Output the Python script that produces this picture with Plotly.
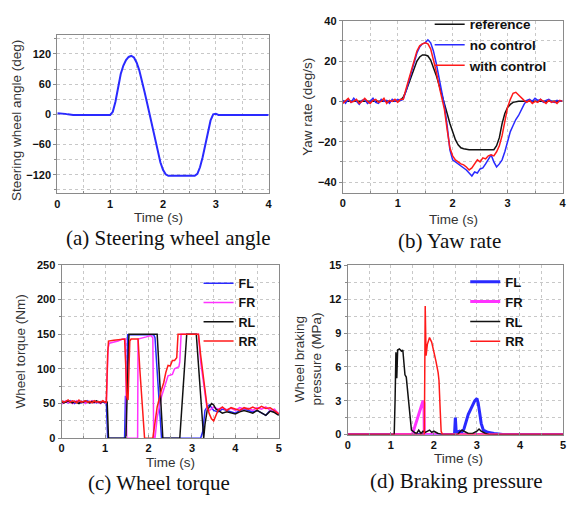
import plotly.graph_objects as go

W, H = 568, 507

# ---------------- (a) Steering wheel angle ----------------
swa_t = [0, 0.1, 0.15, 0.2, 0.3, 1.0, 1.05, 1.1, 1.15, 1.2, 1.25, 1.3, 1.35, 1.4, 1.45, 1.5,
         1.55, 1.6, 1.65, 1.7, 1.75, 1.8, 1.85, 1.9, 1.95, 2.0, 2.05, 2.1, 2.6, 2.65, 2.7,
         2.75, 2.8, 2.85, 2.9, 2.95, 3.0, 3.05, 4.0]
swa_v = [2, 2, 1, 0, -1, -1, 5, 25, 55, 80, 97, 108, 114, 116, 113, 103,
         88, 68, 45, 22, -2, -28, -52, -75, -95, -110, -119, -122, -122, -118, -105,
         -85, -60, -35, -12, 0, 1, -1, -1]

# ---------------- (b) Yaw rate ----------------
yaw_base_t = [0, 0.05, 0.1, 0.15, 0.2, 0.25, 0.3, 0.35, 0.4, 0.45, 0.5, 0.55, 0.6, 0.65,
              0.7, 0.75, 0.8, 0.85, 0.9, 0.95, 1.0, 1.05]
yaw_ref_t = [0, 1.0, 1.05, 1.1, 1.15, 1.2, 1.25, 1.3, 1.35, 1.4, 1.45, 1.5, 1.55, 1.6, 1.65,
             1.7, 1.75, 1.8, 1.85, 1.9, 1.95, 2.0, 2.05, 2.1, 2.15, 2.2, 2.3, 2.75, 2.8, 2.85,
             2.9, 2.95, 3.0, 3.05, 3.1, 3.2, 4.0]
yaw_ref_v = [0, 0, 0.5, 2, 5, 9, 13, 17, 20, 22, 23, 23, 22.5, 20.5, 17,
             13, 8.5, 4, -1, -6, -11, -15.5, -19, -21.5, -23, -23.5, -24, -24, -22, -18,
             -11, -6, -3, -1.5, -0.5, 0, 0]
yaw_tail_t = [1.1, 1.15, 1.2, 1.25, 1.3, 1.35, 1.4, 1.45, 1.5, 1.55, 1.6, 1.65, 1.7, 1.75,
              1.8, 1.85, 1.9, 1.95, 2.0, 2.05, 2.1, 2.15, 2.2, 2.25, 2.3, 2.35, 2.4, 2.45,
              2.5, 2.55, 2.6, 2.65, 2.7, 2.75, 2.8, 2.85, 2.9, 2.95, 3.0, 3.05, 3.1, 3.15,
              3.2, 3.25, 3.3, 3.35, 3.4, 3.45, 3.5, 3.55, 3.6, 3.65, 3.7, 3.75, 3.8, 3.85,
              3.9, 3.95, 4.0]
yaw_noc_base = [0.5, -1, 1, -0.5, 1.5, 0, -1.5, 0.5, 1, -1, 0, 1.5, -0.5, -1, 1, 0, 0.5,
                -1, 1, 0, 1, 0.5]
yaw_noc_tail = [1, 5, 10, 15, 20, 24, 27, 28.5, 29, 30.5, 29, 25, 19, 12,
                5, -2, -12, -24, -29, -30, -31, -32, -33, -34, -35.5, -37, -35, -35.5,
                -33.5, -33, -31, -29, -26.5, -30, -32.5, -31, -29, -25, -20, -15, -12, -9,
                -7, -4, -1.5, 0.5, 1, 0, 1.5, 0.5, 1, -0.5, 0.5, 1, 0, -0.5,
                0.5, 0, 0.5]
yaw_wc_base = [-1, 0.5, 1.5, -0.5, 0, 1, -1, 0, 1.5, 0, -1, 0.5, 1, -0.5, 0, 1.5, -1,
               0.5, 0, 1, -0.5, 1]
yaw_wc_tail = [1, 6, 11, 16, 21, 25, 27.5, 28.5, 29, 28.5, 26, 21, 15, 8,
               2, -4, -14, -23, -27, -29, -30, -31, -31.5, -32.5, -34, -33, -31, -29,
               -30, -28, -28.5, -27, -26.5, -27, -25, -22, -17, -9, -3, 1, 4, 4.5,
               3, 1.5, 0.5, -0.5, 0.5, -1, 0, -0.5, 1, 0, -1, 0.5, -0.5, 0,
               -1, 0.5, 0]

# ---------------- (c) Wheel torque ----------------
base_t = [0, 0.05, 0.1, 0.15, 0.2, 0.25, 0.3, 0.35, 0.4, 0.45, 0.5, 0.55, 0.6, 0.65, 0.7,
          0.75, 0.8, 0.85, 0.9, 0.95, 1.0]
fl_tq_t = base_t + [1.03, 1.06, 1.45, 1.47, 1.5, 1.52, 2.12, 2.15, 2.3, 3.2, 3.25, 3.3, 3.35,
                    3.4, 3.5, 3.6, 3.7, 3.8, 3.9, 4.0, 4.1, 4.2, 4.3, 4.4, 4.5, 4.6, 4.7,
                    4.8, 4.9, 5.0]
fl_tq_v = [50, 53, 52, 51, 54, 52, 50, 53, 52, 51, 53, 52, 54, 51, 52, 53, 51, 52, 53, 52,
           51] + [52, 0, 0, 60, 60, 149, 149, 145, 0, 0, 10, 40, 45,
                  48, 40, 38, 42, 40, 38, 36, 40, 42, 40, 38, 40, 37, 33,
                  40, 38, 34]
fr_tq_t = base_t + [1.03, 1.07, 1.1, 1.2, 1.3, 1.4, 1.47, 1.5, 1.75, 1.76, 1.85, 1.95, 2.05,
                    2.1, 2.12, 2.15, 2.2, 2.3, 2.4, 2.45, 2.55, 2.6, 2.7, 2.72, 2.75, 3.15,
                    3.2, 3.3, 3.35, 3.4, 3.5, 3.6, 3.7, 3.8, 3.9, 4.0, 4.1, 4.2, 4.3, 4.4,
                    4.5, 4.6, 4.7, 4.8, 4.9, 5.0]
fr_tq_v = [49, 52, 54, 51, 53, 50, 52, 54, 51, 53, 52, 50, 53, 52, 54, 51, 53, 52, 50, 53,
           52] + [50, 130, 137, 138, 140, 143, 143, 0, 0, 143, 144, 146, 148,
                  145, 0, 0, 30, 60, 80, 90, 92, 100, 103, 110, 150, 150,
                  110, 60, 42, 40, 45, 42, 44, 41, 43, 40, 44, 42, 43, 40,
                  44, 42, 45, 40, 42, 35]
rl_tq_t = base_t + [1.05, 1.08, 1.48, 1.55, 2.2, 2.33, 2.72, 2.88, 3.1, 3.27, 3.3, 3.35,
                    3.4, 3.45, 3.5, 3.55, 3.6, 3.7, 3.8, 3.9, 4.0, 4.1, 4.2, 4.3, 4.4, 4.5,
                    4.6, 4.7, 4.8, 4.9, 5.0]
rl_tq_v = [53, 51, 52, 54, 52, 51, 53, 52, 50, 53, 52, 54, 52, 51, 53, 52, 54, 52, 51, 53,
           52] + [52, 0, 0, 150, 150, 0, 0, 150, 150, 0, 20, 40,
                  45, 50, 48, 42, 40, 36, 38, 37, 35, 38, 40, 38, 36, 40,
                  37, 33, 39, 37, 33]
rr_tq_t = base_t + [1.03, 1.06, 1.08, 1.2, 1.3, 1.4, 1.45, 1.48, 1.5, 1.53, 1.57, 1.6, 1.76,
                    1.8, 1.85, 1.91, 2.1, 2.15, 2.2, 2.3, 2.35, 2.4, 2.45, 2.5, 2.55, 2.6,
                    2.65, 2.68, 3.15, 3.2, 3.3, 3.35, 3.4, 3.45, 3.5, 3.55, 3.6, 3.7, 3.8,
                    3.9, 4.0, 4.1, 4.2, 4.3, 4.4, 4.5, 4.6, 4.7, 4.8, 4.9, 5.0]
rr_tq_v = [54, 52, 53, 55, 52, 54, 53, 51, 55, 52, 53, 54, 52, 53, 51, 54, 52, 53, 52, 54,
           52] + [52, 120, 140, 141, 142, 143, 143, 100, 60, 55, 140, 143, 143,
                  100, 50, 0, 0, 20, 45, 70, 80, 95, 105, 104, 112, 112,
                  116, 150, 150, 120, 70, 45, 35, 28, 25, 32, 40, 45, 40,
                  44, 42, 40, 44, 42, 45, 42, 46, 43, 44, 40, 35]

# ---------------- (d) Braking pressure ----------------
fl_bp_t = [0, 2.48, 2.5, 2.52, 2.6, 2.65, 2.7, 2.75, 2.8, 2.85, 2.9, 2.95, 3.0, 3.03, 3.07,
           3.1, 3.15, 3.25, 3.4, 3.55, 3.6, 5.0]
fl_bp_v = [0, 0, 1.5, 0.2, 0.3, 0.2, 0.5, 1.2, 1.8, 2.2, 2.6, 3.0, 3.2, 2.8, 1.8,
           1.0, 0.4, 0.2, 0.1, 0.05, 0, 0]
fr_bp_t = [0, 1.5, 1.55, 1.6, 1.65, 1.7, 1.75, 1.77, 1.78, 5.0]
fr_bp_v = [0, 0, 0.6, 1.2, 1.8, 2.5, 3.0, 2.8, 0, 0]
rl_bp_t = [0, 1.08, 1.1, 1.12, 1.14, 1.16, 1.2, 1.25, 1.28, 1.3, 1.33, 1.36, 1.38, 1.41,
           1.44, 1.48, 1.55, 1.6, 1.65, 1.7, 1.75, 1.8, 1.9, 1.95, 2.0, 2.1, 2.2, 2.55,
           2.6, 2.65, 2.7, 2.8, 2.9, 3.0, 3.05, 3.1, 3.2, 3.3, 5.0]
rl_bp_v = [0, 0, 3, 7.3, 5, 7.5, 7.6, 7.4, 7.5, 6.5, 5.3, 5.1, 4.2, 3.0,
           1.5, 0.4, 0.2, 0.1, 0.4, 0.1, 0.3, 0.2, 0.4, 0.2, 0.3, 0.1, 0, 0,
           0.2, 0.4, 0.3, 0.1, 0.1, 0.3, 0.5, 0.3, 0.1, 0, 0]
rr_bp_t = [0, 1.78, 1.8, 1.82, 1.85, 1.9, 1.95, 2.0, 2.05, 2.1, 2.12, 2.15, 2.17, 2.2, 5.0]
rr_bp_v = [0, 0, 11.4, 7.0, 8.0, 8.6, 8.2, 7.4, 6.5, 5.5, 4.8, 2, 0.3, 0, 0]

BLUE = "#2a2aff"
MAGENTA = "#ff33ff"
RED = "#ff1a1a"
BLACK = "#111111"

fig = go.Figure()

def px_x(p):
    return p / W

def px_y(p):
    return 1 - p / H

fig.add_trace(go.Scatter(x=swa_t, y=swa_v, mode="lines", line=dict(color=BLUE, width=2),
                         showlegend=False, xaxis="x", yaxis="y"))

fig.add_trace(go.Scatter(x=yaw_ref_t, y=yaw_ref_v, mode="lines", name="reference",
                         line=dict(color=BLACK, width=1.5), xaxis="x2", yaxis="y2", legend="legend"))
fig.add_trace(go.Scatter(x=yaw_base_t + yaw_tail_t, y=yaw_noc_base + yaw_noc_tail, mode="lines",
                         name="no control", line=dict(color=BLUE, width=1.5),
                         xaxis="x2", yaxis="y2", legend="legend"))
fig.add_trace(go.Scatter(x=yaw_base_t + yaw_tail_t, y=yaw_wc_base + yaw_wc_tail, mode="lines",
                         name="with control", line=dict(color=RED, width=1.5),
                         xaxis="x2", yaxis="y2", legend="legend"))

for nm, t, v, c in [("FL", fl_tq_t, fl_tq_v, BLUE), ("FR", fr_tq_t, fr_tq_v, MAGENTA),
                    ("RL", rl_tq_t, rl_tq_v, BLACK), ("RR", rr_tq_t, rr_tq_v, RED)]:
    fig.add_trace(go.Scatter(x=t, y=v, mode="lines", name=nm, line=dict(color=c, width=1.5),
                             xaxis="x3", yaxis="y3", legend="legend2"))

for nm, t, v, c, w in [("FL", fl_bp_t, fl_bp_v, BLUE, 3), ("FR", fr_bp_t, fr_bp_v, MAGENTA, 3),
                       ("RL", rl_bp_t, rl_bp_v, BLACK, 1.5), ("RR", rr_bp_t, rr_bp_v, RED, 1.5)]:
    fig.add_trace(go.Scatter(x=t, y=v, mode="lines", name=nm, line=dict(color=c, width=w),
                             xaxis="x4", yaxis="y4", legend="legend3"))

tickfont = dict(family="Liberation Sans, Arial", size=11, color="#111", weight="bold")
GRID = "#c8c8c8"
AX = "#8a8a8a"

def axis(domain, rng, dtick, minor_dtick, anchor, ticks):
    return dict(domain=domain, range=rng, dtick=dtick, tick0=0, anchor=anchor,
                showline=True, mirror=True, linecolor=AX, linewidth=1,
                showgrid=True, gridcolor=GRID, griddash="dot", gridwidth=1,
                zeroline=False, ticks=ticks, ticklen=3, tickcolor=AX,
                tickfont=tickfont,
                minor=dict(dtick=minor_dtick, showgrid=True, gridcolor=GRID, griddash="dot",
                           ticks=ticks, ticklen=2, tickcolor=AX))

legfont = lambda s: dict(family="Liberation Sans, Arial", size=s, color="#111", weight="bold")

fig.update_layout(
    width=W, height=H, margin=dict(l=0, r=0, t=0, b=0),
    paper_bgcolor="white", plot_bgcolor="white",
    xaxis=axis([px_x(55), px_x(269)], [0, 4], 1, 0.5, "y", "inside"),
    yaxis=axis([px_y(192), px_y(30)], [-157, 157], 60, 30, "x", "outside"),
    xaxis2=axis([px_x(344), px_x(566.5)], [0, 4], 1, 0.5, "y2", "inside"),
    yaxis2=axis([px_y(191.7), px_y(15)], [-45.5, 40], 20, 10, "x2", "outside"),
    xaxis3=axis([px_x(59.3), px_x(279.3)], [0, 5], 1, 0.5, "y3", "inside"),
    yaxis3=axis([px_y(442.7), px_y(265)], [0, 250], 50, 25, "x3", "outside"),
    xaxis4=axis([px_x(349), px_x(567)], [0, 5], 1, 0.5, "y4", "inside"),
    yaxis4=axis([px_y(439), px_y(265.7)], [0, 15], 3, 1.5, "x4", "outside"),
    legend=dict(x=px_x(432), y=px_y(3), xanchor="left", yanchor="top",
                bgcolor="rgba(0,0,0,0)", font=legfont(13.5)),
    legend2=dict(x=px_x(198), y=px_y(269), xanchor="left", yanchor="top",
                 bgcolor="rgba(0,0,0,0)", font=legfont(12.5)),
    legend3=dict(x=px_x(468), y=px_y(267), xanchor="left", yanchor="top",
                 bgcolor="rgba(0,0,0,0)", font=legfont(13)),
)

titlefont = dict(family="Liberation Sans, Arial", size=13.5, color="#333")
capfont = dict(family="Liberation Serif, Times New Roman", size=21, color="#111")

annots = [
    dict(text="Time (s)", x=px_x(157), y=px_y(217), font=titlefont),
    dict(text="Time (s)", x=px_x(456), y=px_y(218.5), font=titlefont),
    dict(text="Time (s)", x=px_x(170), y=px_y(468), font=titlefont),
    dict(text="Time (s)", x=px_x(461), y=px_y(463), font=titlefont),
    dict(text="Steering wheel angle (deg)", x=px_x(13), y=px_y(117), font=titlefont, textangle=-90),
    dict(text="Yaw rate (deg/s)", x=px_x(308), y=px_y(103), font=titlefont, textangle=-90),
    dict(text="Wheel torque (Nm)", x=px_x(18), y=px_y(354), font=titlefont, textangle=-90),
    dict(text="Wheel braking<br>pressure (MPa)", x=px_x(309), y=px_y(362), font=titlefont,
         textangle=-90),
    dict(text="(a) Steering wheel angle", x=px_x(168), y=px_y(237.5), font=capfont),
    dict(text="(b) Yaw rate", x=px_x(452), y=px_y(240.5), font=capfont),
    dict(text="(c) Wheel torque", x=px_x(158), y=px_y(489), font=capfont),
    dict(text="(d) Braking pressure", x=px_x(459), y=px_y(487), font=capfont),
]
for a in annots:
    a.update(xref="paper", yref="paper", showarrow=False, xanchor="center", yanchor="middle")
fig.update_layout(annotations=annots)

fig.write_html("out.html")
